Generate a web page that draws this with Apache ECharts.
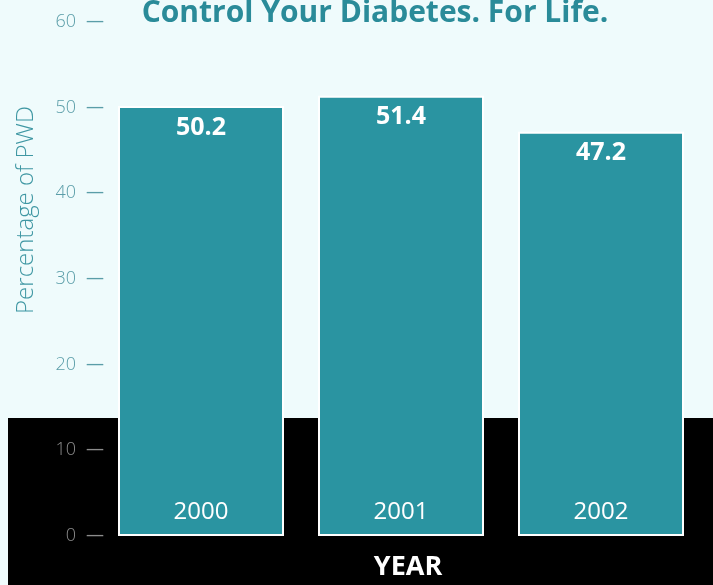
<!DOCTYPE html>
<html>
<head>
<meta charset="utf-8">
<script src="https://cdn.jsdelivr.net/npm/echarts@6/dist/echarts.min.js"></script>
<style>
  html, body { margin: 0; padding: 0; background: #effbfc; }
  #chart { width: 713px; height: 585px; }
</style>
</head>
<body>
<div id="chart"></div>
<script>
// Share of people with diabetes, by survey year
const years = ['2000', '2001', '2002'];
const percentPWD = [50.2, 51.4, 47.2];
const yTicks = [0, 10, 20, 30, 40, 50, 60];

const teal = '#2a94a1';
const chart = echarts.init(document.getElementById('chart'));

chart.setOption({
  backgroundColor: '#effbfc',
  animation: false,
  grid: { left: 101, right: 12, top: 22, bottom: 49 },
  graphic: [
    {
      type: 'rect', z: -10, silent: true,
      shape: { x: 8, y: 418, width: 705, height: 167 },
      style: { fill: '#000000' }
    },
    {
      type: 'text', z: 10, silent: true,
      x: 375, y: 28,
      style: {
        text: 'Control Your Diabetes. For Life.', fill: '#2a8b99',
        font: 'bold 30px "Open Sans"', align: 'center', verticalAlign: 'bottom'
      }
    },
    {
      type: 'text', z: 10, silent: true,
      x: 26, y: 210, rotation: Math.PI / 2,
      style: {
        text: 'Percentage of PWD', fill: '#3f97a3',
        font: '300 24px "Open Sans"', align: 'center', verticalAlign: 'middle'
      }
    },
    {
      type: 'text', z: 10, silent: true,
      x: 408, y: 567,
      style: {
        text: 'YEAR', fill: '#ffffff',
        font: 'bold 27px "Open Sans"', align: 'center', verticalAlign: 'middle'
      }
    }
  ],
  xAxis: {
    type: 'category',
    data: years,
    z: 10,
    axisLine: { show: false },
    axisTick: { show: false },
    axisLabel: {
      inside: true,
      margin: 12,
      color: '#ffffff',
      fontSize: 24,
      fontFamily: 'Open Sans'
    }
  },
  yAxis: {
    type: 'value',
    min: yTicks[0],
    max: yTicks[yTicks.length - 1],
    interval: 10,
    splitLine: { show: false },
    axisLine: { show: false },
    axisTick: { show: false },
    axisLabel: {
      margin: -3,
      formatter: function (v) {
        const k = v <= 10 ? 'g' : 't';
        return '{' + k + 'n|' + v + '}{' + k + 'd|—}';
      },
      rich: {
        tn: { color: '#5a9da8', fontSize: 18, fontFamily: 'Open Sans', fontWeight: 300 },
        td: { color: '#5a9da8', fontSize: 18, fontFamily: 'Open Sans', padding: [0, 0, 0, 10] },
        gn: { color: '#8c8c8c', fontSize: 18, fontFamily: 'Open Sans', fontWeight: 300 },
        gd: { color: '#8c8c8c', fontSize: 18, fontFamily: 'Open Sans', padding: [0, 0, 0, 10] }
      }
    }
  },
  series: [{
    type: 'bar',
    data: percentPWD,
    barWidth: 166,
    itemStyle: { color: teal, borderColor: '#ffffff', borderWidth: 2 },
    label: {
      show: true,
      position: 'insideTop',
      distance: 9,
      color: '#ffffff',
      fontSize: 25,
      fontWeight: 'bold',
      fontFamily: 'Open Sans',
      formatter: function (p) { return p.value.toFixed(1); }
    }
  }]
});
</script>
</body>
</html>
